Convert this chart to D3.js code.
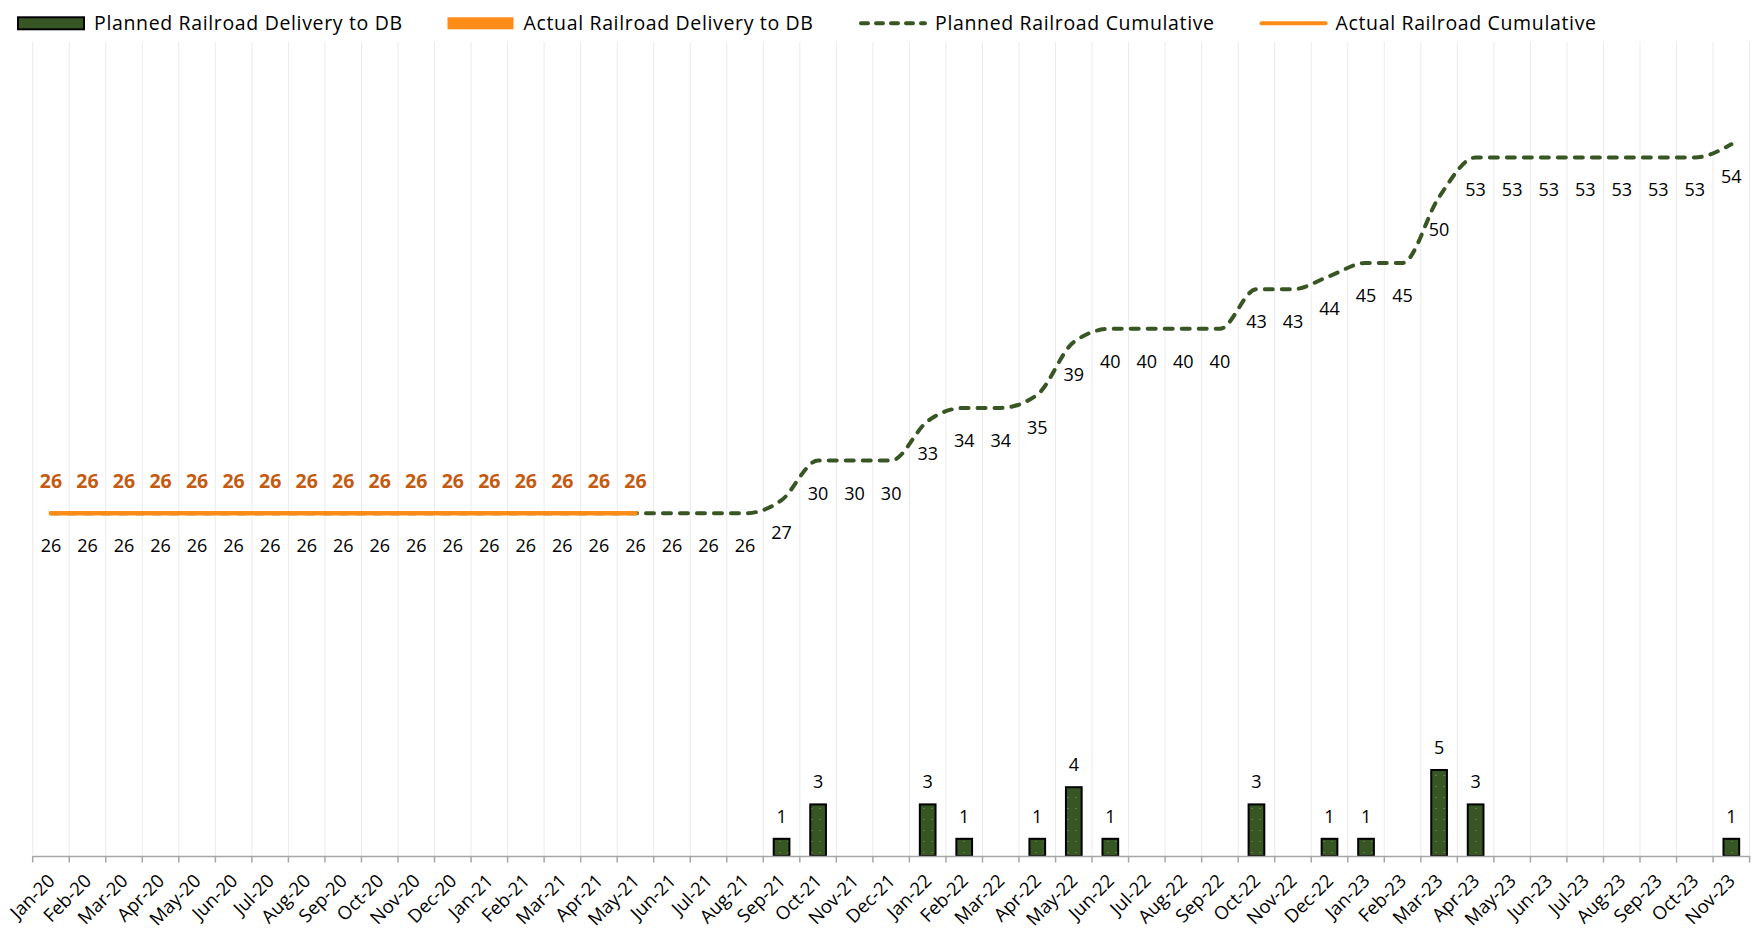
<!DOCTYPE html>
<html>
<head>
<meta charset="utf-8">
<script src="https://cdn.jsdelivr.net/npm/d3@7"></script>
<style>
  body { margin: 0; background: #ffffff; }
  #chart-container { width: 1754px; height: 938px; }
  text { font-family: "Open Sans", sans-serif; }
</style>
</head>
<body>
<div id="chart-container"></div>
<script>
// Categories (months)
var months = ["Jan-20","Feb-20","Mar-20","Apr-20","May-20","Jun-20","Jul-20","Aug-20","Sep-20","Oct-20","Nov-20","Dec-20",
              "Jan-21","Feb-21","Mar-21","Apr-21","May-21","Jun-21","Jul-21","Aug-21","Sep-21","Oct-21","Nov-21","Dec-21",
              "Jan-22","Feb-22","Mar-22","Apr-22","May-22","Jun-22","Jul-22","Aug-22","Sep-22","Oct-22","Nov-22","Dec-22",
              "Jan-23","Feb-23","Mar-23","Apr-23","May-23","Jun-23","Jul-23","Aug-23","Sep-23","Oct-23","Nov-23"];

// Planned deliveries per month (null = nothing planned)
var plannedDelivery = [null,null,null,null,null,null,null,null,null,null,null,null,
                       null,null,null,null,null,null,null,null,1,3,null,null,
                       3,1,null,1,4,1,null,null,null,3,null,1,
                       1,null,5,3,null,null,null,null,null,null,1];

// Actual deliveries per month (none recorded)
var actualDelivery = months.map(function() { return null; });

// Planned cumulative
var plannedCumulative = [26,26,26,26,26,26,26,26,26,26,26,26,
                         26,26,26,26,26,26,26,26,27,30,30,30,
                         33,34,34,35,39,40,40,40,40,43,43,44,
                         45,45,50,53,53,53,53,53,53,53,54];

// Actual cumulative (known up to May-21)
var actualCumulative = [26,26,26,26,26,26,26,26,26,26,26,26,
                        26,26,26,26,26,null,null,null,null,null,null,null,
                        null,null,null,null,null,null,null,null,null,null,null,null,
                        null,null,null,null,null,null,null,null,null,null,null];

var legendItems = [
  {label: "Planned Railroad Delivery to DB", type: "bar", color: "#375623"},
  {label: "Actual Railroad Delivery to DB", type: "bar", color: "#ff8c17"},
  {label: "Planned Railroad Cumulative", type: "dash", color: "#375623"},
  {label: "Actual Railroad Cumulative", type: "line", color: "#ff8c17"}
];

var green = "#375623",
    orange = "#ff8c17",
    orangeText = "#c55a11";

// Margin conventions
var width = 1754, height = 938;
var plot = {left: 32.7, right: 1749.6, top: 42, bottom: 856};

var svg = d3.select("#chart-container")
            .append("svg")
            .attr("width", width)
            .attr("height", height);

// Dotted pattern for bars
var defs = svg.append("defs");
var pat = defs.append("pattern")
              .attr("id", "dots")
              .attr("patternUnits", "userSpaceOnUse")
              .attr("width", 8)
              .attr("height", 11);
pat.append("rect").attr("width", 8).attr("height", 11).attr("fill", green);
pat.append("rect").attr("x", 3.5).attr("y", 5).attr("width", 1).attr("height", 1).attr("fill", "#7fa862");

// Scales
var xScale = d3.scaleBand()
  .domain(months)
  .range([plot.left, plot.right])
  .padding(0);

var barWidth = xScale.bandwidth() * 0.43;

var yBar = d3.scaleLinear()
  .domain([0, 46])
  .range([plot.bottom, plot.bottom - 46 * 17.2]);

var yLine = d3.scaleLinear()
  .domain([0, 60])
  .range([plot.bottom, plot.bottom - 60 * 13.18]);

function cx(m) { return xScale(m) + xScale.bandwidth() / 2; }

// Vertical gridlines at category boundaries
var bounds = months.map(function(m) { return xScale(m); }).concat([plot.right]);
svg.append("g")
   .selectAll("line")
   .data(bounds)
   .enter()
   .append("line")
   .attr("x1", function(d) { return d; })
   .attr("x2", function(d) { return d; })
   .attr("y1", plot.top)
   .attr("y2", plot.bottom)
   .style("stroke", "#ebebeb")
   .style("stroke-width", 1);

// Bars (planned)
var barData = months.map(function(m, i) { return {m: m, v: plannedDelivery[i]}; })
                    .filter(function(d) { return d.v != null; });

svg.append("g")
   .selectAll("rect")
   .data(barData)
   .enter()
   .append("rect")
   .attr("x", function(d) { return cx(d.m) - barWidth / 2; })
   .attr("y", function(d) { return yBar(d.v); })
   .attr("width", barWidth)
   .attr("height", function(d) { return yBar(0) - yBar(d.v); })
   .attr("fill", "url(#dots)")
   .style("stroke", "#000000")
   .style("stroke-width", 2);

svg.append("g")
   .selectAll("text")
   .data(barData)
   .enter()
   .append("text")
   .attr("x", function(d) { return cx(d.m); })
   .attr("y", function(d) { return yBar(d.v) - 16; })
   .attr("text-anchor", "middle")
   .style("font-size", "18px")
   .style("fill", "#000")
   .text(function(d) { return d.v; });

// X axis
var xAxis = d3.axisBottom(xScale).tickSize(0).tickFormat("");
var axisG = svg.append("g")
               .attr("transform", "translate(0," + plot.bottom + ")")
               .call(xAxis);
axisG.select(".domain").style("stroke", "#a6a6a6").style("stroke-width", 1.5);

axisG.selectAll("line.bound")
     .data(bounds)
     .enter()
     .append("line")
     .attr("class", "bound")
     .attr("x1", function(d) { return d; })
     .attr("x2", function(d) { return d; })
     .attr("y1", 0)
     .attr("y2", 6.5)
     .style("stroke", "#a6a6a6")
     .style("stroke-width", 1.5);

axisG.selectAll("text.lab")
     .data(months)
     .enter()
     .append("text")
     .attr("class", "lab")
     .attr("text-anchor", "end")
     .attr("transform", function(d) { return "translate(" + (cx(d) + 5) + ",26) rotate(-45)"; })
     .style("font-size", "18.5px")
     .style("fill", "#000")
     .text(function(d) { return d; });

// Planned cumulative line (dashed, smoothed)
var plannedPts = months.map(function(m, i) { return {m: m, v: plannedCumulative[i]}; });
var line = d3.line()
  .x(function(d) { return cx(d.m); })
  .y(function(d) { return yLine(d.v); })
  .curve(d3.curveMonotoneX);

svg.append("path")
   .datum(plannedPts)
   .attr("d", line)
   .style("fill", "none")
   .style("stroke", green)
   .style("stroke-width", 4)
   .style("stroke-dasharray", "8,9")
   .style("stroke-linecap", "round");

// Actual cumulative line
var actualPts = months.map(function(m, i) { return {m: m, v: actualCumulative[i]}; })
                      .filter(function(d) { return d.v != null; });

svg.append("path")
   .datum(actualPts)
   .attr("d", d3.line().x(function(d) { return cx(d.m); }).y(function(d) { return yLine(d.v); }))
   .style("fill", "none")
   .style("stroke", orange)
   .style("stroke-width", 4.5)
   .style("stroke-linecap", "round");

// Labels for the cumulative lines
svg.append("g")
   .selectAll("text")
   .data(plannedPts)
   .enter()
   .append("text")
   .attr("x", function(d) { return cx(d.m); })
   .attr("y", function(d) { return yLine(d.v) + 39; })
   .attr("text-anchor", "middle")
   .style("font-size", "18px")
   .style("fill", "#000")
   .text(function(d) { return d.v; });

svg.append("g")
   .selectAll("text")
   .data(actualPts)
   .enter()
   .append("text")
   .attr("x", function(d) { return cx(d.m); })
   .attr("y", function(d) { return yLine(d.v) - 25.5; })
   .attr("text-anchor", "middle")
   .style("font-size", "19.5px")
   .style("font-weight", "bold")
   .style("fill", orangeText)
   .text(function(d) { return d.v; });

// Legend
var legendX = [18, 447.5, 859, 1259.5];
var legend = svg.append("g").attr("class", "legend");
legendItems.forEach(function(item, i) {
  var g = legend.append("g").attr("transform", "translate(" + legendX[i] + ",23.3)");
  if (item.type === "bar") {
    g.append("rect")
     .attr("x", 0).attr("y", -6)
     .attr("width", 66).attr("height", 12)
     .attr("fill", i === 0 ? "url(#dots)" : item.color)
     .style("stroke", i === 0 ? "#000" : "none")
     .style("stroke-width", 2);
  } else {
    g.append("line")
     .attr("x1", 2).attr("x2", 66)
     .attr("y1", 0).attr("y2", 0)
     .style("stroke", item.color)
     .style("stroke-width", 4)
     .style("stroke-linecap", "round")
     .style("stroke-dasharray", item.type === "dash" ? "7,8" : null);
  }
  g.append("text")
   .attr("x", 76)
   .attr("y", 7)
   .style("font-size", "19.5px")
   .style("letter-spacing", "0.65px")
   .style("fill", "#000")
   .text(item.label);
});
</script>
</body>
</html>
